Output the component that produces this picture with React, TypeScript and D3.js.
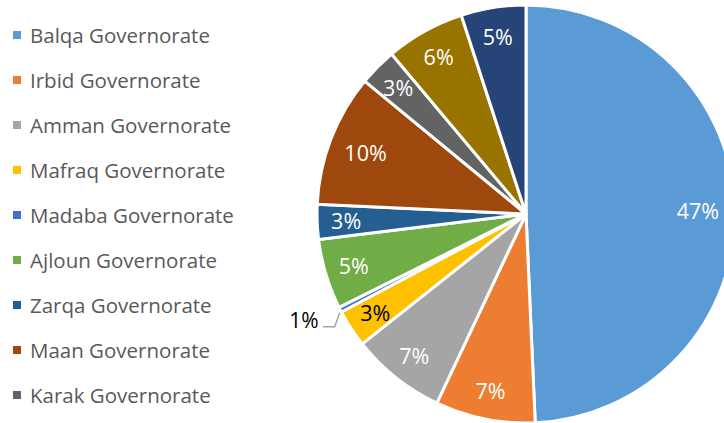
import React from "react";
import * as d3 from "d3";

const categories = [
  "Balqa Governorate",
  "Irbid Governorate",
  "Amman Governorate",
  "Mafraq Governorate",
  "Madaba Governorate",
  "Ajloun Governorate",
  "Zarqa Governorate",
  "Maan Governorate",
  "Karak Governorate",
  "Jerash Governorate",
  "Tafilah Governorate",
];
const values = [49.2, 7.7, 7.3, 2.9, 0.4, 5.4, 2.7, 10.2, 2.9, 6.1, 5.0];
const labels = ["47%", "7%", "7%", "3%", "1%", "5%", "3%", "10%", "3%", "6%", "5%"];
const colors = [
  "#5B9BD5",
  "#ED7D31",
  "#A5A5A5",
  "#FFC000",
  "#4472C4",
  "#70AD47",
  "#255E91",
  "#9E480E",
  "#636363",
  "#997300",
  "#264478",
];
const legendCount = 9;

export default function App() {
  const W = 724;
  const H = 423;
  const cx = 526;
  const cy = 214;
  const R = 209;
  const pie = d3.pie<number>().sort(null).value((d) => d);
  const arcs = pie(values);
  const arcGen = d3.arc<d3.PieArcDatum<number>>().innerRadius(0).outerRadius(R);
  const font = "'Open Sans', sans-serif";

  return (
    <svg
      width={W}
      height={H}
      style={{ position: "absolute", left: 0, top: 0, background: "#fff" }}
    >
      <g transform={`translate(${cx},${cy})`}>
        {arcs.map((a, i) => (
          <path key={i} d={arcGen(a) || ""} fill={colors[i]} stroke="#fff" strokeWidth={3} strokeLinejoin="round" />
        ))}
        {arcs.map((a, i) => {
          if (i === 4) return null;
          const share = (a.endAngle - a.startAngle) / (2 * Math.PI);
          const lr = share > 0.09 ? 172 : 180;
          const [x, y] = d3.arc<d3.PieArcDatum<number>>().innerRadius(lr).outerRadius(lr).centroid(a);
          return (
            <text
              key={i}
              x={x}
              y={y}
              textAnchor="middle"
              dominantBaseline="central"
              fontFamily={font}
              fontSize={21.5}
              fill={i === 3 ? "#000" : "#fff"}
            >
              {labels[i]}
            </text>
          );
        })}
      </g>
      {(() => {
        const a = arcs[4];
        const mid = (a.startAngle + a.endAngle) / 2;
        const px = cx + Math.sin(mid) * (R - 4);
        const py = cy - Math.cos(mid) * (R - 4);
        return (
          <g>
            <polyline
              points={`${px - 4},${py + 5} ${px - 9},${py + 19} ${px - 21},${py + 19}`}
              fill="none"
              stroke="#A5A5A5"
              strokeWidth={1.5}
            />
            <text
              x={px - 25}
              y={py + 12}
              textAnchor="end"
              dominantBaseline="central"
              fontFamily={font}
              fontSize={21}
              fill="#000"
            >
              {labels[4]}
            </text>
          </g>
        );
      })()}
      {categories.slice(0, legendCount).map((c, i) => {
        const y = 35 + i * 45;
        return (
          <g key={c}>
            <rect x={13} y={y - 4} width={8} height={8} fill={colors[i]} />
            <text
              x={30}
              y={y}
              dominantBaseline="central"
              fontFamily={font}
              fontSize={20.5}
              fill="#595959"
            >
              {c}
            </text>
          </g>
        );
      })}
    </svg>
  );
}
